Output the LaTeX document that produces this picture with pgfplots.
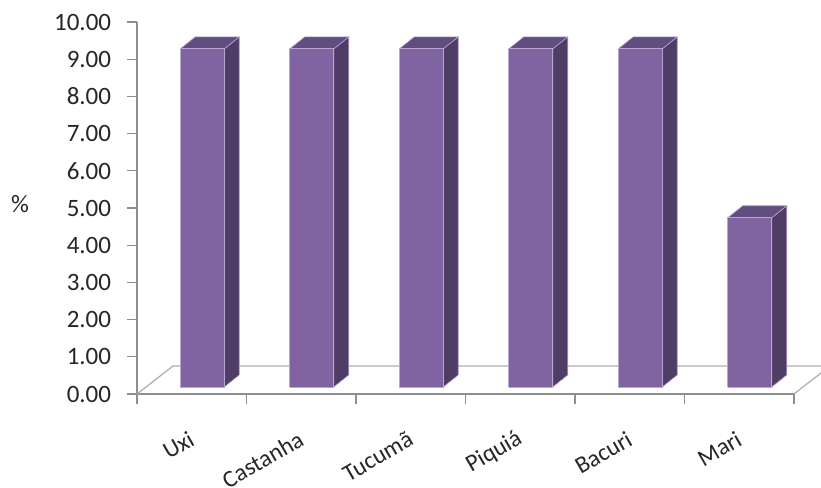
\documentclass[border=0pt]{standalone}
\usepackage{fontspec}
\setmainfont{Carlito}
\usepackage{pgfplots}
\pgfplotsset{compat=1.18}
\definecolor{barfront}{HTML}{8064A2}
\definecolor{barside}{HTML}{4F3D66}
\definecolor{bartop}{HTML}{624D80}
\definecolor{baredge}{HTML}{B8A6D2}
\definecolor{axisgray}{HTML}{8E8E8E}
\definecolor{floorgray}{HTML}{ADADAD}
\definecolor{txt}{HTML}{262626}
\begin{document}
\begin{tikzpicture}
\useasboundingbox (-68.5pt,-47pt) rectangle (342pt,197pt);
\clip (-68.5pt,-47pt) rectangle (342pt,197pt);
\begin{axis}[
  at={(0,0)}, anchor=south west,
  scale only axis, width=328.5pt, height=186pt,
  xmin=0, xmax=6, ymin=0, ymax=10,
  clip=false,
  axis x line*=bottom, axis y line*=left,
  axis line style={axisgray, line width=0.6pt, -},
  every tick/.style={axisgray, line width=0.6pt},
  tick align=outside,
  major tick length=4.75pt,
  ytick={0,1,...,10},
  xtick={0,1,...,6},
  xticklabels={},
  extra x ticks={0.5,1.5,2.5,3.5,4.5,5.5},
  extra x tick labels={Uxi,Castanha,Tucumã,Piquiá,Bacuri,Mari},
  extra x tick style={major tick length=0pt,
    tick label style={yshift=-21.5pt, xshift=0.2pt, rotate=30, anchor=east, inner sep=0pt,
      font=\fontsize{12}{14}\selectfont}},
  /pgf/number format/assume math mode=true,
  yticklabel style={/pgf/number format/fixed, /pgf/number format/fixed zerofill,
    /pgf/number format/precision=2, anchor=east, inner sep=0pt, xshift=-8pt},
  ticklabel style={text=txt, font=\fontsize{12.5}{15}\selectfont},
  ylabel={\%},
  every axis y label/.style={at={(axis description cs:0,0.51)}, anchor=center,
    xshift=-58.5pt, text=txt, font=\fontsize{12.5}{15}\selectfont},
]
% floor outline (left, back and right edges)
\addplot[floorgray, line width=0.6pt, mark=none] coordinates {(0,0) (0.329,0.753) (6.329,0.753) (6,0)};
% 3D bars: category index / value
\pgfplotsforeachungrouped \i/\v in {0/9.09,1/9.09,2/9.09,3/9.09,4/9.09,5/4.55}{
  \pgfmathsetmacro\xa{\i+0.395}
  \pgfmathsetmacro\xb{\i+0.797}
  \pgfmathsetmacro\xc{\i+0.934}
  \pgfmathsetmacro\xd{\i+0.532}
  \pgfmathsetmacro\yb{0.188+\v}
  \pgfmathsetmacro\yc{0.511+\v}
  \edef\temp{%
    \noexpand\addplot[draw=baredge, line width=0.3pt, fill=barside, mark=none] coordinates {(\xb,0.188) (\xc,0.511) (\xc,\yc) (\xb,\yb) (\xb,0.188)};
    \noexpand\addplot[draw=baredge, line width=0.3pt, fill=bartop, mark=none] coordinates {(\xa,\yb) (\xd,\yc) (\xc,\yc) (\xb,\yb) (\xa,\yb)};
    \noexpand\addplot[draw=baredge, line width=0.4pt, fill=barfront, mark=none] coordinates {(\xa,0.188) (\xb,0.188) (\xb,\yb) (\xa,\yb) (\xa,0.188)};
  }\temp
}
\end{axis}
\end{tikzpicture}
\end{document}
